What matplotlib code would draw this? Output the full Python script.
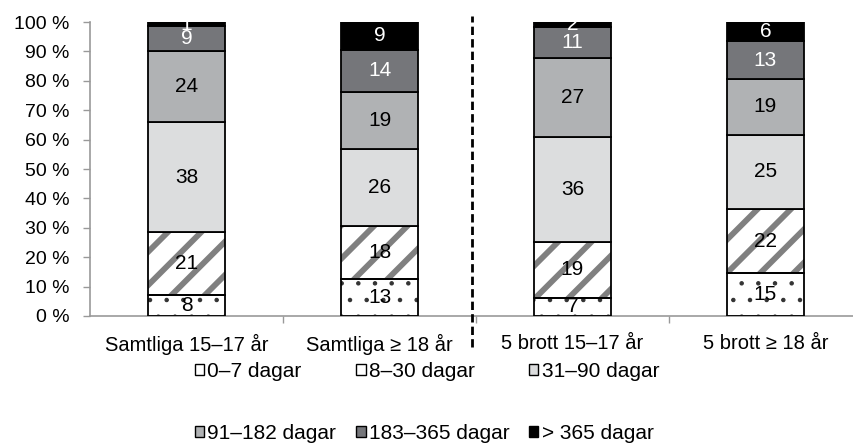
import matplotlib
matplotlib.use("Agg")
import matplotlib.pyplot as plt
from matplotlib.patches import Patch
import numpy as np

plt.rcParams['font.family'] = ['Liberation Sans', 'DejaVu Sans']

categories = ["Samtliga 15–17 år", "Samtliga ≥ 18 år", "5 brott 15–17 år", "5 brott ≥ 18 år"]
series_names = ["0–7 dagar", "8–30 dagar", "31–90 dagar", "91–182 dagar", "183–365 dagar", "> 365 dagar"]

# bar heights (percent)
d0_7 = [7.2, 12.6, 6.2, 14.7]
d8_30 = [21.3, 18.0, 19.0, 21.6]
d31_90 = [37.4, 26.2, 35.7, 25.4]
d91_182 = [24.1, 19.4, 27.0, 18.8]
d183_365 = [8.5, 14.3, 10.3, 13.1]
d365p = [1.5, 9.5, 1.8, 6.4]

# printed labels
lab0_7 = [8, 13, 7, 15]
lab8_30 = [21, 18, 19, 22]
lab31_90 = [38, 26, 36, 25]
lab91_182 = [24, 19, 27, 19]
lab183_365 = [9, 14, 11, 13]
lab365p = [1, 9, 2, 6]

series = [d0_7, d8_30, d31_90, d91_182, d183_365, d365p]
labels = [lab0_7, lab8_30, lab31_90, lab91_182, lab183_365, lab365p]
faces = ["white", "white", "#dcddde", "#b0b2b4", "#75767a", "black"]
hatches = [".", "/", None, None, None, None]
hatch_colors = ["#333333", "#808080", None, None, None, None]
hatch_lw = [0.8, 4.2, None, None, None, None]
text_colors = ["black", "black", "black", "black", "white", "white"]

fig = plt.figure(figsize=(8.54, 4.45), dpi=100)
ax = fig.add_axes([90/854, 129/445, 772/854, 294/445])

x = np.arange(len(categories))
width = 0.40
bottom = np.zeros(len(categories))
for i, vals in enumerate(series):
    vals = np.array(vals)
    if hatches[i]:
        with plt.rc_context({'hatch.linewidth': hatch_lw[i]}):
            bars = ax.bar(x, vals, width, bottom=bottom, color=faces[i], edgecolor=hatch_colors[i],
                          hatch=hatches[i], linewidth=0, zorder=2)
            for b in bars:
                if hasattr(b, "set_hatch_linewidth"):
                    b.set_hatch_linewidth(hatch_lw[i])
        ax.bar(x, vals, width, bottom=bottom, color="none", edgecolor="black", linewidth=1.3, zorder=3)
    else:
        ax.bar(x, vals, width, bottom=bottom, color=faces[i], edgecolor="black", linewidth=1.3, zorder=3)
    for j in range(len(x)):
        ax.text(x[j], bottom[j] + vals[j] / 2, str(labels[i][j]), ha="center", va="center",
                fontsize=15, color=text_colors[i], zorder=5, clip_on=False)
    bottom = bottom + vals

ax.set_xlim(-0.5, 3.5)
ax.set_ylim(0, 100)
ax.set_yticks(np.arange(0, 101, 10))
ax.set_yticklabels([f"{v} %" for v in range(0, 101, 10)], fontsize=14)
ax.set_xticks(x)
ax.set_xticklabels(categories, fontsize=14.5)
ax.tick_params(axis="x", which="major", length=0, pad=13)
ax.set_xticks([0.5, 1.5, 2.5], minor=True)
ax.tick_params(axis="x", which="minor", length=5, color="#999999", width=1)
ax.tick_params(axis="y", length=5, color="#999999", width=1, pad=10)
for s in ["top", "right"]:
    ax.spines[s].set_visible(False)
for s in ["left", "bottom"]:
    ax.spines[s].set_color("#999999")
    ax.spines[s].set_linewidth(1.2)

ax.axvline(1.48, ymin=-31/294, ymax=1.02, color="black", linestyle=(0, (3, 1.5)), linewidth=2,
           clip_on=False, zorder=6)

handles = [Patch(facecolor=faces[i], edgecolor="black", linewidth=1) for i in range(6)]
order = [0, 3, 1, 4, 2, 5]
fig.legend([handles[k] for k in order], [series_names[k] for k in order],
           loc="center", bbox_to_anchor=(427/854, 1 - 402.5/445),
           ncol=3, frameon=False, fontsize=15, handlelength=0.45, handleheight=0.45,
           handletextpad=0.15, columnspacing=0.95, labelspacing=2.05)

fig.savefig("out.png", dpi=100)
